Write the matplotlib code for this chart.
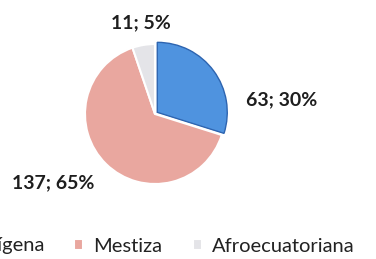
import numpy as np
import matplotlib.pyplot as plt

# Data
categories = ['Indígena', 'Mestiza', 'Afroecuatoriana']
counts = [63, 137, 11]
colors = ['#4f93df', '#e9a79f', '#e4e4e8']

total = sum(counts)
pcts = [round(c / total * 100) for c in counts]
labels = [f'{c}; {p}%' for c, p in zip(counts, pcts)]

# label offsets (in pie radius units)
label_pos = [(1.81, 0.20), (-1.46, -0.98), (-0.20, 1.30)]

plt.rcParams['font.family'] = ['Lato', 'DejaVu Sans']

fig = plt.figure(figsize=(3.76, 2.59), dpi=100)
ax = fig.add_axes([0, 0, 1, 1])

wedges, _ = ax.pie(counts, colors=colors, startangle=90, counterclock=False,
                   explode=[0.04, 0, 0],
                   wedgeprops=dict(edgecolor='white', linewidth=1.5))
wedges[0].set_edgecolor('#2d64b0')
wedges[0].set_linewidth(1.0)

for lab, (x, y) in zip(labels, label_pos):
    ax.text(x, y, lab, ha='center', va='center', fontsize=14,
            fontweight='bold', color='#1e1e1e')

# map the pie: center at (155,114) px, radius 70 px
cx, cy, r = 155, 114, 70
ax.set_xlim(-cx / r, (376 - cx) / r)
ax.set_ylim(-(259 - cy) / r, cy / r)
ax.set_aspect('equal')
ax.axis('off')

fig.legend(wedges, categories, loc='center', ncol=3,
           bbox_to_anchor=(152 / 376, 1 - 246 / 259), frameon=False,
           fontsize=14.5, handlelength=0.45, handleheight=0.45,
           columnspacing=1.5, handletextpad=0.5, labelcolor='#222222')

fig.savefig('out.png', dpi=100)
